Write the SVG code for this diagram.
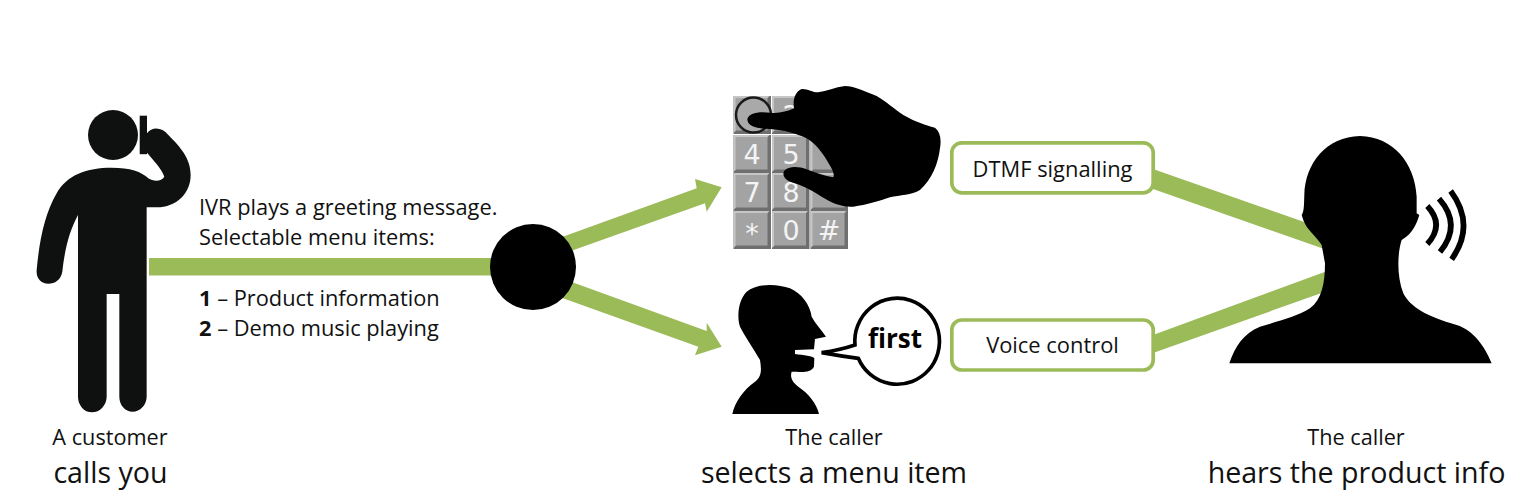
<svg xmlns="http://www.w3.org/2000/svg" width="1527" height="502" viewBox="0 0 1527 502">
<style>
text{font-family:"Open Sans","Noto Sans","Liberation Sans",sans-serif;fill:#111}
.s{font-size:21.7px;text-anchor:middle}
.l{font-size:28.6px;text-anchor:middle}
.b{font-size:21.8px}
.c{font-size:21.9px;text-anchor:middle}
.g{fill:#9bbb59}
.box{fill:#fff;stroke:#9bbb59;stroke-width:3.7}
.key{fill:#a3a3a3}
.hi{fill:#c6c6c6}
.lo{fill:#6f6f6f}
.d{font-family:"DejaVu Sans",sans-serif;font-size:27px;fill:#f4f4f4;text-anchor:middle}
</style>
<defs>
<g id="k"><rect class="lo" x="0" y="0" width="37.500" height="38"/><polygon class="hi" points="0,0 36,0 33.500,2.500 2.500,2.500 2.500,34.500 0,37"/><rect class="key" x="2" y="2" width="32" height="32.500"/></g>
</defs>
<rect width="1527" height="502" fill="#fff"/>
<g id="connectors">
<rect class="g" x="149" y="258" width="360" height="17.500"/>
<polygon class="g" points="540,245 696.700,188.300 695,179 721.700,187.300 706.700,211.700 705,203.300 540,262"/>
<polygon class="g" points="540,270.600 706.700,331 706.700,322.700 721.700,346.700 695,355.300 698.300,346.700 540,290"/>
<polygon class="g" points="1153,169 1330,231 1330,251 1153,189"/>
<polygon class="g" points="1153,335 1330,270 1330,290 1153,353"/>
</g>
<g id="customer">
<circle cx="113" cy="135" r="25" fill="#0f1110"/>
<rect x="139.700" y="115.700" width="7.300" height="38.500" fill="#0f1110"/>
<path transform="translate(20,100) scale(.3333)" fill="#0f1110" d="M275,203C330,203 365,215 385,235C400,245 425,245 433,230C425,205 395,175 381,158L381,100C395,80 425,80 445,105C480,140 512,175 512,225C512,280 470,322 410,322L380,322L380,890C380,915 360,935 338,935C315,935 298,915 298,890L298,582L260,582L260,890C260,915 240,937 216,937C192,937 174,915 174,890L174,345C150,390 135,440 127,515C122,540 105,551 85,551C62,551 48,535 50,510C58,420 75,340 110,280C140,225 200,203 275,203Z"/>
<text class="s" x="110" y="445">A customer</text>
<text class="l" x="110.500" y="483">calls you</text>
</g>
<g id="menu-text">
<text class="b" x="199" y="215">IVR plays a greeting message.</text>
<text class="b" x="199" y="245">Selectable menu items:</text>
<text class="b" x="199" y="306"><tspan font-weight="700">1</tspan> – Product information</text>
<text class="b" x="199" y="336"><tspan font-weight="700">2</tspan> – Demo music playing</text>
</g>
<g id="junction"><circle cx="533" cy="267" r="43" fill="#000"/></g>
<g id="keypad">
<use href="#k" x="733.500" y="96"/><use href="#k" x="772" y="96"/><use href="#k" x="810.500" y="96"/>
<use href="#k" x="733.500" y="135"/><use href="#k" x="772" y="135"/><use href="#k" x="810.500" y="135"/>
<use href="#k" x="733.500" y="173"/><use href="#k" x="772" y="173"/><use href="#k" x="810.500" y="173"/>
<use href="#k" x="733.500" y="211"/><use href="#k" x="772" y="211"/><use href="#k" x="810.500" y="211"/>
<text class="d" x="752" y="163.500">4</text><text class="d" x="791" y="163.500">5</text>
<text class="d" x="752" y="202">7</text><text class="d" x="791" y="202">8</text>
<text class="d" x="752" y="243">*</text><text class="d" x="791" y="240">0</text><text class="d" x="829" y="240">#</text>
<text class="d" x="791" y="125">2</text>
<circle cx="753.500" cy="115" r="17.500" fill="#a9a9a9" stroke="#1a1a1a" stroke-width="2.500"/>
<path transform="translate(690,80) scale(.3333)" fill="#000" d="M172,118C175,100 205,93 240,98C265,101 290,95 312,85C308,60 315,35 335,27C350,25 370,38 385,37C410,33 435,22 465,18C490,18 520,32 560,48C590,65 610,85 640,105C675,125 705,135 735,143C750,155 755,175 750,205C745,250 725,300 690,330C665,345 630,345 600,352C570,362 530,375 490,380C455,382 425,368 395,350C365,330 335,315 305,307C285,300 275,285 283,272C295,258 325,258 350,268C375,278 405,288 430,292C435,280 425,265 410,240C395,215 375,190 350,175C320,160 280,150 240,147C205,147 172,140 172,118Z"/>
</g>
<g id="speaker">
<path transform="translate(690,270) scale(.3333)" fill="#000" d="M127,432C135,395 160,360 195,335C215,320 215,300 210,270C190,235 165,200 150,170C140,140 145,90 170,65C200,40 260,40 300,55C335,70 360,105 365,140C375,160 395,180 408,200L375,207L372,238L315,240L315,252C340,255 370,258 373,265L372,290C365,305 340,308 320,305L305,305C300,320 305,335 325,350C355,370 380,400 387,432Z"/>
<path transform="translate(690,270) scale(.3333)" fill="#fff" stroke="#000" stroke-width="11" d="M495,225A127,129 0 1 1 505,265Q450,258 395,248Q450,240 495,225Z"/>
<text x="895" y="348" font-size="26" font-weight="700" text-anchor="middle" style="fill:#000">first</text>
<text class="s" x="834" y="445">The caller</text>
<text class="l" x="834" y="483">selects a menu item</text>
</g>
<g id="dtmf"><rect class="box" x="951.800" y="142.800" width="201.400" height="50" rx="10"/><text class="c" x="1052.500" y="177">DTMF signalling</text></g>
<g id="voice"><rect class="box" x="951.800" y="320" width="201.400" height="50" rx="10"/><text class="c" x="1052.500" y="353">Voice control</text></g>
<g id="listener">
<path transform="translate(1210,120) scale(.3333)" fill="#000" d="M58,730C75,680 100,640 150,620C200,605 260,590 300,565C335,540 345,490 345,430L335,375C320,350 290,330 280,300L275,285C282,275 282,260 283,225C285,130 350,50 450,48C550,50 615,130 620,230L620,280L628,285C620,310 610,340 575,360C562,400 560,470 580,520C600,560 650,590 740,615C790,630 825,680 845,730Z"/>
<g transform="translate(1210,120) scale(.3333)" fill="none" stroke="#000" stroke-width="17"><path d="M652,258Q705,315 652,372"/><path d="M687,236Q757,315 690,396"/><path d="M722,213Q798,315 725,418"/></g>
<text class="s" x="1356" y="445">The caller</text>
<text class="l" x="1356.500" y="483">hears the product info</text>
</g>
</svg>
